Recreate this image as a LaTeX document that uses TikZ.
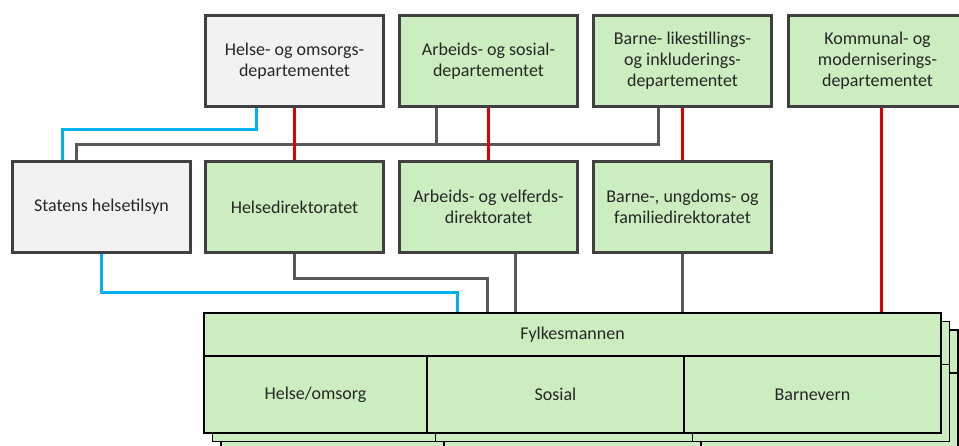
\documentclass[tikz,border=0pt]{standalone}
\usepackage{fontspec}
\setmainfont{Carlito}
\usetikzlibrary{shadows}
\definecolor{gronnfyll}{HTML}{CCEDC0}
\definecolor{graafyll}{HTML}{F2F2F2}
\definecolor{kant}{HTML}{404040}
\definecolor{linjegraa}{HTML}{595959}
\definecolor{linjeblaa}{HTML}{00B0F0}
\definecolor{linjerod}{HTML}{E00000}
\tikzstyle{Boks}= [rectangle,draw=kant,line width=3pt,minimum width=178pt,minimum height=91pt,align=center,text=black!85,font=\fontsize{18}{21}\selectfont]
\tikzstyle{Gronn}= [Boks,fill=gronnfyll]
\tikzstyle{Graa}= [Boks,fill=graafyll]
\tikzstyle{Felt}= [rectangle,draw=black,line width=1.6pt,fill=gronnfyll,text=black!85,font=\fontsize{18}{21}\selectfont,
	copy shadow={shadow xshift=17pt,shadow yshift=-17pt},copy shadow={shadow xshift=8.5pt,shadow yshift=-8.5pt}]
\tikzstyle{Grlinje}= [line width=3pt,draw=linjegraa]
\tikzstyle{Bllinje}= [line width=3pt,draw=linjeblaa]
\tikzstyle{Rdlinje}= [line width=3pt,draw=linjerod]

\begin{document}
\begin{tikzpicture}[x=1pt,y=-1pt]
	\useasboundingbox (0,0) rectangle (959,445);

		% departementene
		\node [Graa] (1) at (294.5,61) {Helse- og omsorgs-\\departementet};
		\node [Gronn] (2) at (488.5,61) {Arbeids- og sosial-\\departementet};
		\node [Gronn] (3) at (682.5,61) {Barne- likestillings-\\og inkluderings-\\departementet};
		\node [Gronn] (4) at (877.5,61) {Kommunal- og\\moderniserings-\\departementet};

		% direktorater og tilsyn
		\node [Graa] (5) at (101.5,207) {Statens helsetilsyn};
		\node [Gronn] (6) at (294.5,207) {Helsedirektoratet};
		\node [Gronn] (7) at (488.5,207) {Arbeids- og velferds-\\direktoratet};
		\node [Gronn] (8) at (682.5,207) {Barne-, ungdoms- og\\familiedirektoratet};

		% fylkesmannen
		\node [Felt,minimum width=737pt,minimum height=43pt] (9) at (572.5,334.5) {Fylkesmannen};
		\node [Felt,minimum width=223pt,minimum height=77pt] (10) at (315.5,394.5) {Helse/omsorg};
		\node [Felt,minimum width=257pt,minimum height=77pt] (11) at (555.5,394.5) {Sosial};
		\node [Felt,minimum width=257pt,minimum height=77pt] (12) at (812.5,394.5) {Barnevern};

		\draw[Bllinje]
		([xshift=-38.5pt]1.south) -- ++(0,21) -| ([xshift=-39.5pt]5.north);
		\draw[Grlinje]
		([xshift=-25.5pt]5.north) -- ++(0,-16) -| ([xshift=-24.5pt]3.south);
		\draw[Grlinje]
		([xshift=-52.5pt]2.south) -- ++(0,36);
		\draw[Rdlinje]
		(1.south) -- (6.north);
		\draw[Rdlinje]
		(2.south) -- (7.north);
		\draw[Rdlinje]
		(3.south) -- (8.north);
		\draw[Rdlinje]
		([xshift=3.5pt]4.south) -- ([xshift=3.5pt]4.south |- 9.north);
		\draw[Grlinje]
		(6.south) -- ++(0,24) -| ([xshift=-85.5pt]9.north);
		\draw[Bllinje]
		(5.south) -- ++(0,38) -| ([xshift=-115.5pt]9.north);
		\draw[Grlinje]
		([xshift=26.5pt]7.south) -- ([xshift=26.5pt]7.south |- 9.north);
		\draw[Grlinje]
		(8.south) -- (8.south |- 9.north);
		;

	\end{tikzpicture}
\end{document}
